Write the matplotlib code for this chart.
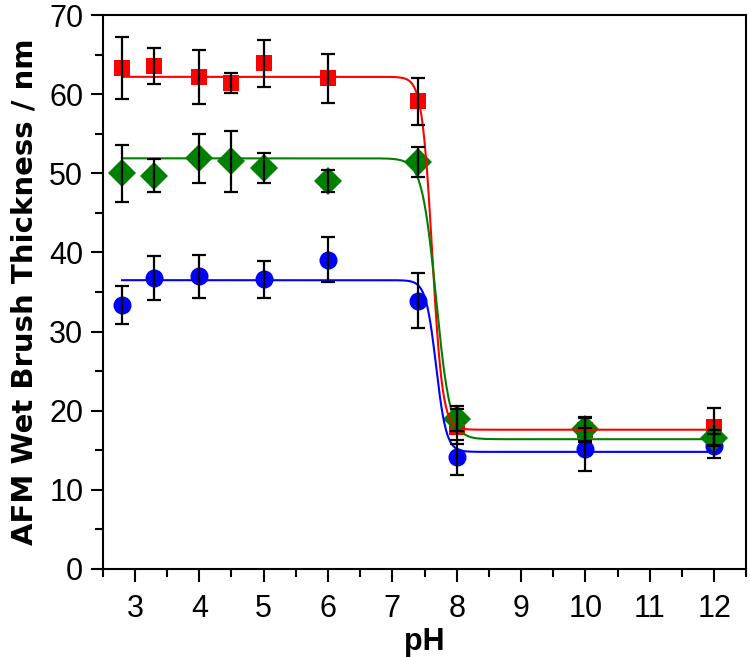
import numpy as np
import matplotlib
matplotlib.use("Agg")
import matplotlib.pyplot as plt
from matplotlib.ticker import MultipleLocator

plt.rcParams['font.family'] = ['Liberation Sans', 'DejaVu Sans']

# data
ph = [2.8, 3.3, 4.0, 4.5, 5.0, 6.0, 7.4, 8.0, 10.0, 12.0]
red_y = [63.3, 63.6, 62.2, 61.4, 63.9, 62.0, 59.1, 18.0, 17.6, 18.0]
red_e = [3.9, 2.3, 3.4, 1.3, 3.0, 3.1, 3.0, 2.2, 1.5, 2.3]
green_y = [50.0, 49.7, 51.9, 51.5, 50.7, 49.0, 51.4, 19.0, 17.7, 16.5]
green_e = [3.6, 2.1, 3.1, 3.9, 1.9, 1.4, 1.9, 1.6, 1.5, 1.0]
blue_ph = [2.8, 3.3, 4.0, 5.0, 6.0, 7.4, 8.0, 10.0, 12.0]
blue_y = [33.3, 36.8, 37.0, 36.6, 39.1, 33.9, 14.1, 15.1, 15.5]
blue_e = [2.4, 2.8, 2.7, 2.3, 2.8, 3.5, 2.2, 2.7, 1.5]

# Boltzmann fit parameters: (A1 high, A2 low, x0, dx)
red_fit = (62.2, 17.6, 7.62, 0.08)
green_fit = (51.9, 16.4, 7.68, 0.11)
blue_fit = (36.5, 14.8, 7.68, 0.08)

x_ticks = [3, 4, 5, 6, 7, 8, 9, 10, 11, 12]
y_ticks = [0, 10, 20, 30, 40, 50, 60, 70]

def boltz(x, p):
    a1, a2, x0, dx = p
    return a2 + (a1 - a2) / (1 + np.exp((x - x0) / dx))

fig = plt.figure(figsize=(7.5, 6.57), dpi=100)
ax = fig.add_axes([0.137, 0.134, 0.858, 0.843])

xf = np.linspace(2.8, 12.0, 800)

RED = (1, 0, 0)
BLUE = (0, 0, 1)
GREEN = (0, 0.5, 0)

series = [
    (ph, red_y, red_e, red_fit, RED, 's', 12),
    (blue_ph, blue_y, blue_e, blue_fit, BLUE, 'o', 13),
    (ph, green_y, green_e, green_fit, GREEN, 'D', 14),
]
for i, (xs, ys, es, fit, c, mk, ms) in enumerate(series):
    ax.plot(xs, ys, linestyle='none', marker=mk, color=c,
            markersize=ms, markeredgewidth=0, zorder=2 + i)
for i, (xs, ys, es, fit, c, mk, ms) in enumerate(series):
    ax.plot(xf, boltz(xf, fit), color=c, linewidth=1.5, zorder=6)
for i, (xs, ys, es, fit, c, mk, ms) in enumerate(series):
    ax.errorbar(xs, ys, yerr=es, fmt='none', ecolor='black', elinewidth=1.6,
                capsize=5, capthick=1.6, zorder=8)

ax.set_xlim(2.5, 12.5)
ax.set_ylim(0, 70)
ax.set_xticks(x_ticks)
ax.set_yticks(y_ticks)
ax.xaxis.set_minor_locator(MultipleLocator(0.5))
ax.yaxis.set_minor_locator(MultipleLocator(5))
ax.tick_params(which='major', direction='out', length=9, width=1.5, labelsize=22)
ax.tick_params(axis='x', which='major', pad=9)
ax.tick_params(axis='y', which='major', pad=5)
ax.tick_params(which='minor', direction='out', length=5.5, width=1.5)
for s in ax.spines.values():
    s.set_linewidth(1.5)

ax.set_xlabel('pH', fontsize=22, fontweight='bold', labelpad=2)
ax.set_ylabel('AFM Wet Brush Thickness / nm', fontsize=21, fontweight='bold',
              labelpad=8, family=['DejaVu Sans'])

fig.savefig('out.png', dpi=100)
